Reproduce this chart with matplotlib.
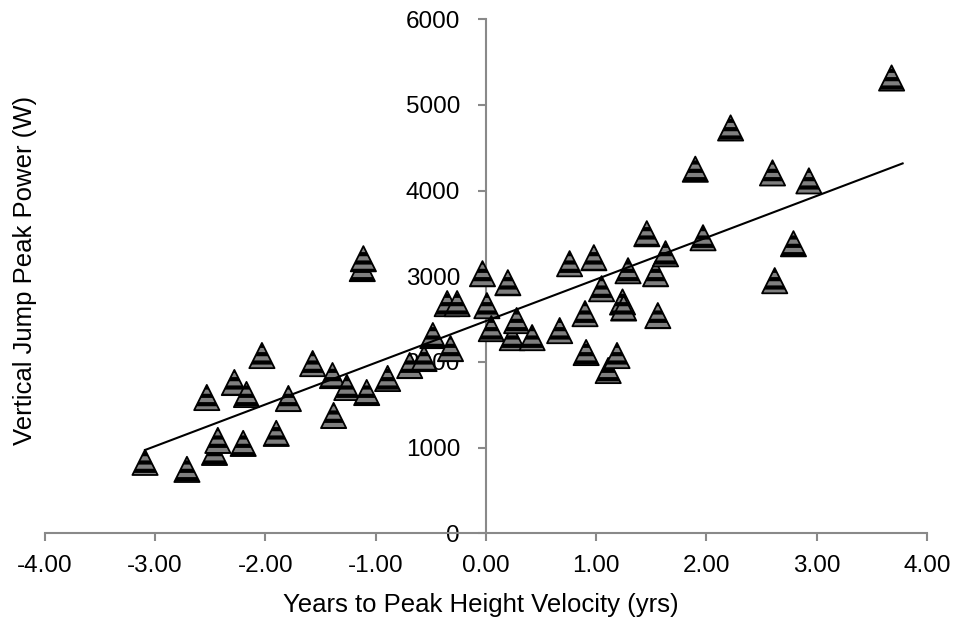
import numpy as np
import matplotlib
matplotlib.use("Agg")
import matplotlib.pyplot as plt

# years to peak height velocity vs vertical jump peak power
years = [-3.09, -2.71, -2.53, -2.46, -2.43, -2.28, -2.20, -2.17, -2.03, -1.90,
         -1.79, -1.57, -1.39, -1.38, -1.26, -1.12, -1.11, -1.08, -0.89, -0.69,
         -0.56, -0.48, -0.35, -0.32, -0.26, -0.03, 0.01, 0.05, 0.20, 0.24,
         0.28, 0.42, 0.67, 0.76, 0.90, 0.91, 0.98, 1.05, 1.11, 1.19,
         1.24, 1.25, 1.29, 1.46, 1.54, 1.56, 1.63, 1.90, 1.97, 2.22,
         2.60, 2.62, 2.79, 2.93, 3.68]
power = [828, 746, 1585, 944, 1084, 1760, 1049, 1620, 2075, 1166,
         1573, 1981, 1841, 1375, 1702, 3090, 3205, 1643, 1807, 1958,
         2040, 2308, 2681, 2156, 2681, 3030, 2657, 2389, 2925, 2284,
         2483, 2284, 2366, 3147, 2564, 2110, 3217, 2855, 1900, 2075,
         2700, 2630, 3065, 3497, 3030, 2541, 3263, 4250, 3450, 4732,
         4207, 2949, 3380, 4114, 5315]

# linear trendline as drawn
trend_x = [-3.09, 3.78]
slope, intercept = 487.0, 2477.0

plt.rcParams['font.family'] = ['Liberation Sans', 'DejaVu Sans']
plt.rcParams['hatch.color'] = 'black'
plt.rcParams['hatch.linewidth'] = 3.0

fig = plt.figure(figsize=(9.61, 6.23), dpi=100)
ax = fig.add_axes([0.0465, 0.144, 0.918, 0.825])

ax.scatter(years, power, marker='^', s=330, facecolor='#7f7f7f',
           edgecolor='black', linewidth=1.3, hatch='--', zorder=3)
tx = np.array(trend_x)
ax.plot(tx, slope * tx + intercept, color='black', linewidth=1.5, zorder=4)

ax.set_xlim(-4, 4)
ax.set_ylim(0, 6000)
ax.set_xticks(np.arange(-4, 4.01, 1))
ax.set_xticklabels(['%.2f' % v for v in np.arange(-4, 4.01, 1)])
ax.set_yticks(np.arange(0, 6001, 1000))

ax.spines['top'].set_visible(False)
ax.spines['right'].set_visible(False)
ax.spines['left'].set_position(('data', 0))
ax.spines['bottom'].set_position(('data', 0))
for s in ('left', 'bottom'):
    ax.spines[s].set_color('#898989')
    ax.spines[s].set_linewidth(1.5)
ax.tick_params(axis='both', colors='#898989', labelcolor='black',
               labelsize=17.5, length=6, width=1.5, direction='out')
ax.tick_params(axis='x', pad=9.5)
ax.tick_params(axis='y', pad=12.5)

fig.text(0.5, 0.018, 'Years to Peak Height Velocity (yrs)', ha='center',
         va='baseline', fontsize=18.5)
fig.text(0.0135, 0.566, 'Vertical Jump Peak Power (W)', ha='left',
         va='center', rotation=90, fontsize=18.5)

fig.savefig('out.png', dpi=100)
